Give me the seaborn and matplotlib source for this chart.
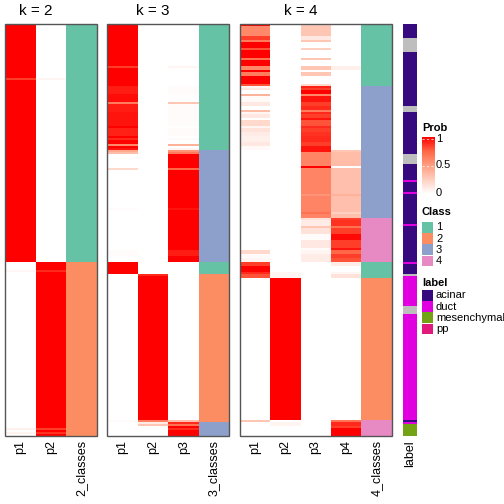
import numpy as np
import matplotlib
matplotlib.use("Agg")
import matplotlib.pyplot as plt
import seaborn as sns
from matplotlib.colors import LinearSegmentedColormap, ListedColormap
from matplotlib.patches import Rectangle

# rows are given as runs: (n_rows, class, p1, p2, ...)
k2_runs = [
    (27, 1, 1.0, 0.0), (1, 1, 0.85, 0.05), (91, 1, 1.0, 0.0),
    (4, 2, 0.0, 1.0), (1, 2, 0.04, 0.9), (78, 2, 0.0, 1.0),
    (1, 2, 0.08, 0.85), (1, 2, 0.0, 1.0), (1, 2, 0.06, 0.88), (1, 2, 0.0, 1.0),
]

k3_runs = [
    (21, 1, 1.0, 0, 0), (1, 1, 0.85, 0, 0.05), (9, 1, 1.0, 0, 0),
    (4, 1, 0.93, 0, 0.02), (4, 1, 0.97, 0, 0.01), (1, 1, 0.65, 0, 0.3),
    (4, 1, 0.93, 0, 0.02), (7, 1, 0.95, 0, 0.02), (1, 1, 1.0, 0, 0),
    (4, 1, 0.92, 0, 0.02), (1, 1, 1.0, 0, 0), (1, 1, 0.9, 0, 0.03),
    (2, 1, 1.0, 0, 0), (1, 1, 0.6, 0, 0.4), (1, 1, 1.0, 0, 0), (1, 1, 0.95, 0, 0.05),
    (1, 3, 0.45, 0, 0.55), (1, 3, 0.35, 0, 0.65), (7, 3, 0, 0, 1.0),
    (1, 3, 0.2, 0, 0.75), (19, 3, 0, 0, 1.0), (1, 3, 0.02, 0, 0.95),
    (20, 3, 0, 0, 1.0), (3, 3, 0.02, 0, 0.93), (3, 3, 0, 0, 1.0),
    (6, 1, 1.0, 0, 0),
    (1, 2, 0, 0.9, 0), (72, 2, 0, 1.0, 0), (1, 2, 0.02, 0.65, 0.33),
    (1, 3, 0, 0.1, 0.9), (1, 3, 0, 0.3, 0.7), (1, 3, 0, 0, 1.0),
    (1, 3, 0, 0, 0.9), (3, 3, 0, 0, 1.0),
]

k4_runs = [
    (1, 1, 1.0, 0, 0.25, 0), (5, 1, 0.6, 0, 0.3, 0), (2, 1, 0.85, 0, 0.12, 0),
    (1, 1, 0.65, 0, 0.3, 0), (3, 1, 1.0, 0, 0, 0), (1, 1, 0.8, 0, 0.25, 0),
    (4, 1, 1.0, 0, 0, 0), (1, 1, 0.7, 0, 0.3, 0), (3, 1, 1.0, 0, 0, 0),
    (2, 1, 0.6, 0, 0.3, 0.08), (1, 1, 1.0, 0, 0, 0), (2, 1, 0.65, 0, 0.3, 0),
    (4, 1, 1.0, 0, 0, 0), (1, 1, 0.8, 0, 0.2, 0),
    (1, 3, 0.05, 0, 0.92, 0), (1, 3, 0.12, 0, 0.85, 0), (2, 3, 0, 0, 1.0, 0),
    (1, 3, 0.4, 0, 0.6, 0), (3, 3, 0.03, 0, 0.95, 0), (2, 3, 0.12, 0, 0.85, 0),
    (2, 3, 0, 0, 0.9, 0), (1, 3, 0.35, 0, 0.65, 0), (1, 3, 0.05, 0, 0.9, 0),
    (2, 3, 0.12, 0, 0.85, 0), (1, 3, 0, 0, 0.95, 0), (3, 3, 0.2, 0, 0.8, 0),
    (1, 3, 0.05, 0, 0.9, 0), (2, 3, 0.15, 0, 0.85, 0), (2, 3, 0.1, 0, 0.88, 0),
    (3, 3, 0.08, 0, 0.9, 0), (2, 3, 0.12, 0, 0.85, 0), (2, 3, 0.03, 0, 0.95, 0),
    (1, 3, 0, 0, 0.95, 0.3), (7, 3, 0, 0, 0.62, 0.35), (1, 3, 0, 0, 1.0, 0),
    (13, 3, 0, 0, 0.62, 0.33), (1, 3, 0, 0, 0.55, 0.4), (8, 3, 0, 0, 0.62, 0.33),
    (1, 3, 0, 0, 0.7, 0.25), (2, 3, 0, 0, 0.62, 0.33),
    (1, 4, 0, 0, 0.15, 0.85), (3, 4, 0, 0, 0.1, 0.88), (1, 4, 0, 0, 0.3, 0.7),
    (3, 4, 0, 0, 0.15, 0.85), (3, 4, 0, 0, 0.02, 0.98), (4, 4, 0, 0, 0.12, 0.85),
    (1, 4, 0, 0, 0.02, 0.95), (2, 4, 0.2, 0, 0.05, 0.75), (2, 4, 0.02, 0, 0.1, 0.85),
    (2, 4, 0.05, 0, 0.1, 0.8),
    (2, 1, 0.85, 0, 0, 0.1), (3, 1, 1.0, 0, 0, 0), (1, 1, 0.9, 0.05, 0, 0.05),
    (2, 1, 0.8, 0.05, 0, 0.15),
    (71, 2, 0, 1.0, 0, 0),
    (1, 4, 0.3, 0, 0, 0.7), (2, 4, 0, 0.06, 0, 0.9), (1, 4, 0, 0, 0, 0.85),
    (4, 4, 0, 0, 0, 1.0),
]

label_runs = [
    (7, "acinar"), (7, None), (27, "acinar"), (3, None), (21, "acinar"),
    (5, None), (8, "acinar"), (1, "duct"), (5, "acinar"), (1, "duct"),
    (15, "acinar"), (1, "duct"), (18, "acinar"), (1, "duct"), (5, "acinar"),
    (1, None), (15, "duct"), (4, None), (53, "duct"), (1, "acinar"),
    (1, "duct"), (6, "mesenchymal"),
]

class_colors = ["#66C2A5", "#FC8D62", "#8DA0CB", "#E78AC3"]
label_names = ["acinar", "duct", "mesenchymal", "pp"]
label_colors = ["#37097F", "#E000E0", "#73A315", "#E1197D"]
na_color = "#BEBEBE"

plt.rcParams["font.family"] = ["Liberation Sans", "DejaVu Sans"]
# white -> red ramp, blended in Lab-like steps
prob_cmap = LinearSegmentedColormap.from_list(
    "prob", ["#FFFFFF", "#FFCFBF", "#FF9E82", "#FF6847", "#FF0000"])

W = H = 504.0
TOP, BOT = 24, 436


def rect(x0, x1):
    return [x0 / W, 1 - BOT / H, (x1 - x0) / W, (BOT - TOP) / H]


def expand(runs):
    n = [r[0] for r in runs]
    cls = np.repeat([r[1] for r in runs], n)
    probs = np.repeat(np.array([r[2:] for r in runs], dtype=float), n, axis=0)
    return cls, probs


def style_ticks(ax):
    ax.tick_params(axis="x", length=0, pad=3, labelsize=9, rotation=90)
    ax.tick_params(axis="y", left=False)


fig = plt.figure(figsize=(5.04, 5.04), dpi=100)

panels = [(2, k2_runs, 5, 66, 97), (3, k3_runs, 107, 199, 229), (4, k4_runs, 240, 361, 392)]
for k, runs, x0, xm, x1 in panels:
    cls, probs = expand(runs)
    ax_p = fig.add_axes(rect(x0, xm))
    sns.heatmap(probs, ax=ax_p, cmap=prob_cmap, vmin=0, vmax=1, cbar=False,
                xticklabels=[f"p{i + 1}" for i in range(k)], yticklabels=False)
    style_ticks(ax_p)
    ax_c = fig.add_axes(rect(xm, x1))
    sns.heatmap(cls.reshape(-1, 1), ax=ax_c, cmap=ListedColormap(class_colors[:k]),
                vmin=0.5, vmax=k + 0.5, cbar=False,
                xticklabels=[f"{k}_classes"], yticklabels=False)
    style_ticks(ax_c)
    fig.add_artist(Rectangle((x0 / W, 1 - BOT / H), (x1 - x0) / W, (BOT - TOP) / H,
                             transform=fig.transFigure, fill=False, ec="#555555", lw=1))
    fig.text((x0 + xm) / 2 / W, 1 - 11 / H, f"k = {k}", ha="center", va="center", fontsize=11)

# label annotation column
n_lab = [r[0] for r in label_runs]
lab = np.repeat([label_names.index(r[1]) if r[1] else -1 for r in label_runs], n_lab)
ax_l = fig.add_axes(rect(403, 417))
ax_l.set_facecolor(na_color)
sns.heatmap(lab.reshape(-1, 1).astype(float), ax=ax_l, mask=(lab.reshape(-1, 1) < 0),
            cmap=ListedColormap(label_colors), vmin=-0.5, vmax=3.5, cbar=False,
            xticklabels=["label"], yticklabels=False)
style_ticks(ax_l)

# legends drawn in pixel space
leg = fig.add_axes([0, 0, 1, 1])
leg.set_xlim(0, W)
leg.set_ylim(H, 0)
leg.axis("off")
leg.patch.set_alpha(0)

fs = 8
leg.text(422, 128, "Prob", fontsize=fs, fontweight="bold", va="center")
leg.imshow(np.linspace(1, 0, 100).reshape(-1, 1), cmap=prob_cmap, vmin=0, vmax=1,
           extent=(422, 435, 194, 137), aspect="auto")
for yy, t in [(139, "1"), (165.5, "0.5"), (193, "0")]:
    leg.text(436, yy, t, fontsize=fs, va="center")
for yy in (139, 165.5):
    leg.plot([422, 435], [yy, yy], color="white", lw=0.8, ls=(0, (2, 2)), alpha=0.7)

leg.text(422, 212, "Class", fontsize=fs, fontweight="bold", va="center")
for i, c in enumerate(class_colors):
    yy = 222 + i * 11.2
    leg.add_patch(Rectangle((422, yy), 11, 10.5, fc=c, ec="none"))
    leg.text(436, yy + 5.5, str(i + 1), fontsize=fs, va="center")

leg.text(422, 283, "label", fontsize=fs, fontweight="bold", va="center")
for i, (name, c) in enumerate(zip(label_names, label_colors)):
    yy = 290 + i * 11.2
    leg.add_patch(Rectangle((422, yy), 11, 10.5, fc=c, ec="none"))
    leg.text(436, yy + 5.5, name, fontsize=fs, va="center")

fig.savefig("out.png", dpi=100)
